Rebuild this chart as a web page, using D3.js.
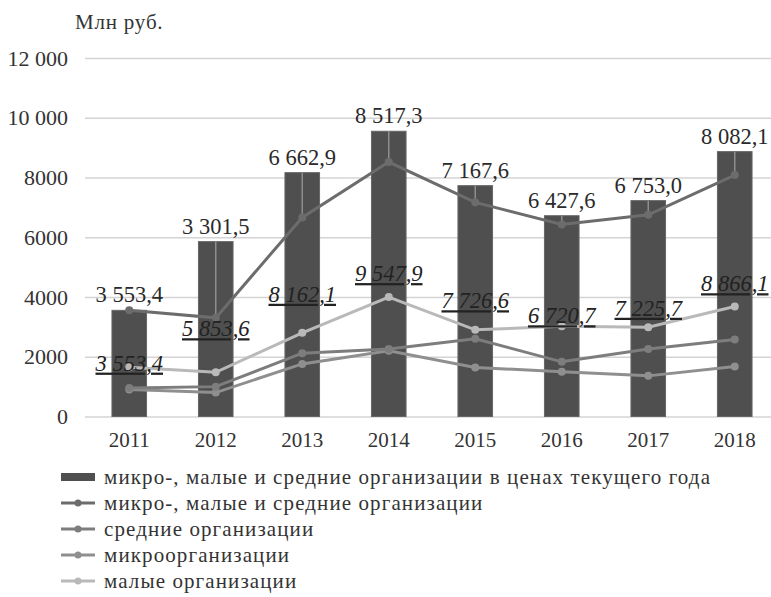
<!DOCTYPE html>
<html>
<head>
<meta charset="utf-8">
<script src="https://cdn.jsdelivr.net/npm/d3@7"></script>
</head>
<body style="margin:0;background:#fff">
<script>
// chart values
var years = ["2011", "2012", "2013", "2014", "2015", "2016", "2017", "2018"];
var barValues = [3553.4, 5853.6, 8162.1, 9547.9, 7726.6, 6720.7, 7225.7, 8866.1];
var totalValues = [3553.4, 3301.5, 6662.9, 8517.3, 7167.6, 6427.6, 6753.0, 8082.1];
var mediumValues = [950, 1000, 2120, 2260, 2600, 1830, 2260, 2580];
var microValues = [900, 800, 1760, 2200, 1640, 1500, 1360, 1670];
var smallValues = [1650, 1480, 2800, 4000, 2900, 3020, 2990, 3680];
var yTicks = [0, 2000, 4000, 6000, 8000, 10000, 12000];
var yTickLabels = ["0", "2000", "4000", "6000", "8000", "10 000", "12 000"];
var legendLabels = [
  "микро-, малые и средние организации в ценах текущего года",
  "микро-, малые и средние организации",
  "средние организации",
  "микроорганизации",
  "малые организации"
];

var width = 771, height = 597;
var serif = "Liberation Serif";

var svg = d3.select("body").append("svg")
    .attr("width", width)
    .attr("height", height)
    .attr("font-family", serif);

var xScale = d3.scaleBand()
    .domain(years)
    .range([86, 778])
    .paddingInner(0.6)
    .paddingOuter(0.3);

var yScale = d3.scaleLinear()
    .domain([0, 12000])
    .range([416.5, 58]);

var ru = d3.formatLocale({decimal: ",", thousands: " ", grouping: [3], currency: ["", ""]});
var fmt = ru.format(",.1f");

function cx(i) { return xScale(years[i]) + xScale.bandwidth() / 2; }

// y axis + grid
var yAxis = svg.append("g")
    .attr("transform", "translate(85,0)")
    .call(d3.axisLeft(yScale)
      .tickValues(yTicks)
      .tickSize(-700)
      .tickPadding(17)
      .tickFormat(function(d, i) { return yTickLabels[i]; }));
yAxis.attr("font-family", serif).attr("font-size", 22);
yAxis.select(".domain").remove();
yAxis.selectAll(".tick line").attr("stroke", "#d4d4d4").attr("stroke-width", 1.5);
yAxis.selectAll(".tick text").attr("fill", "#333").attr("font-family", serif);

svg.append("text")
    .attr("x", 75)
    .attr("y", 29)
    .attr("fill", "#333")
    .attr("font-family", serif)
    .attr("font-size", 21)
    .attr("letter-spacing", 0.8)
    .text("Млн руб.");

// x axis
var xAxis = svg.append("g")
    .attr("transform", "translate(0,416.5)")
    .call(d3.axisBottom(xScale).tickSize(0).tickPadding(16));
xAxis.attr("font-family", serif).attr("font-size", 21);
xAxis.select(".domain").remove();
xAxis.selectAll(".tick text").attr("fill", "#333").attr("font-family", serif);

// bars
svg.append("g").selectAll("rect")
    .data(barValues)
    .enter().append("rect")
    .attr("x", function(d, i) { return xScale(years[i]); })
    .attr("y", function(d) { return yScale(d); })
    .attr("width", xScale.bandwidth())
    .attr("height", function(d) { return yScale(0) - yScale(d); })
    .attr("fill", "#4f4f4f")
    .attr("stroke", "#666")
    .attr("stroke-width", 1);

// thin lines from bar top down to the total line
svg.append("g").selectAll("line")
    .data(barValues)
    .enter().append("line")
    .attr("x1", function(d, i) { return cx(i); })
    .attr("x2", function(d, i) { return cx(i); })
    .attr("y1", function(d) { return yScale(d); })
    .attr("y2", function(d, i) { return yScale(totalValues[i]); })
    .attr("stroke", "#8e8e8e")
    .attr("stroke-width", 1.5);

var series = [
  {values: totalValues, color: "#6c6c6c"},
  {values: mediumValues, color: "#7d7d7d"},
  {values: microValues, color: "#8f8f8f"},
  {values: smallValues, color: "#b9b9b9"}
];

var line = d3.line()
    .x(function(d, i) { return cx(i); })
    .y(function(d) { return yScale(d); });

series.slice().reverse().forEach(function(s) {
  svg.append("path")
      .datum(s.values)
      .attr("d", line)
      .attr("fill", "none")
      .attr("stroke", s.color)
      .attr("stroke-width", 3);
  svg.append("g").selectAll("circle")
      .data(s.values)
      .enter().append("circle")
      .attr("cx", function(d, i) { return cx(i); })
      .attr("cy", function(d) { return yScale(d); })
      .attr("r", 4)
      .attr("fill", s.color);
});

// total labels, sitting just above the bars
svg.append("g").selectAll("text")
    .data(totalValues)
    .enter().append("text")
    .attr("x", function(d, i) { return cx(i); })
    .attr("y", function(d, i) { return yScale(barValues[i]) - 8; })
    .attr("text-anchor", "middle")
    .attr("fill", "#2a2a2a")
    .attr("font-family", serif)
    .attr("font-size", 22.5)
    .text(function(d) { return fmt(d); });

// bar labels, italic and underlined, in the middle of each bar
svg.append("g").selectAll("text")
    .data(barValues)
    .enter().append("text")
    .attr("x", function(d, i) { return cx(i); })
    .attr("y", function(d) { return yScale(d / 2); })
    .attr("dy", "0.32em")
    .attr("text-anchor", "middle")
    .attr("fill", "#222")
    .attr("font-family", serif)
    .attr("font-size", 22.5)
    .attr("font-style", "italic")
    .attr("text-decoration", "underline")
    .text(function(d) { return fmt(d); });

// legend
var legend = svg.append("g");
legendLabels.forEach(function(lab, i) {
  var ly = 477 + i * 26;
  if (i == 0) {
    legend.append("rect")
        .attr("x", 61).attr("y", ly - 4)
        .attr("width", 34).attr("height", 8)
        .attr("fill", "#4f4f4f");
  } else {
    var col = series[i - 1].color;
    legend.append("line")
        .attr("x1", 61).attr("x2", 95)
        .attr("y1", ly).attr("y2", ly)
        .attr("stroke", col).attr("stroke-width", 3);
    legend.append("circle")
        .attr("cx", 78).attr("cy", ly).attr("r", 3.5)
        .attr("fill", col);
  }
  legend.append("text")
      .attr("x", 104)
      .attr("y", ly)
      .attr("dy", "0.35em")
      .attr("fill", "#333")
      .attr("font-family", serif)
      .attr("font-size", 21)
      .attr("letter-spacing", 1.1)
      .text(lab);
});
</script>
</body>
</html>
